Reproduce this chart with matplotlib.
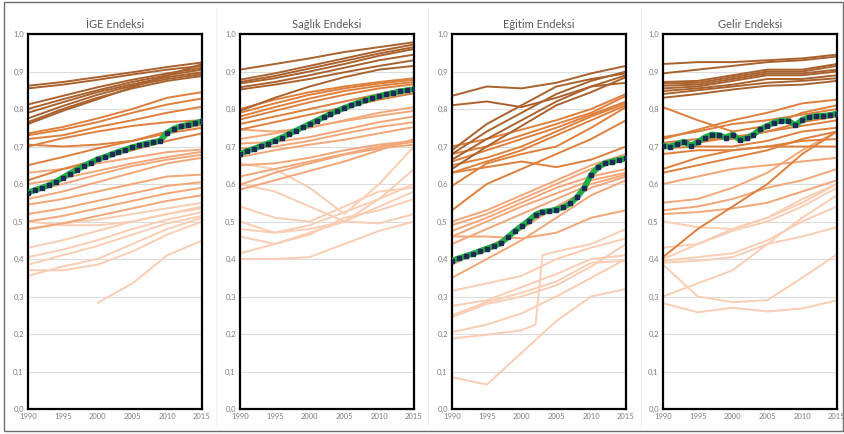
import numpy as np
import matplotlib
matplotlib.use("Agg")
import matplotlib.pyplot as plt
from matplotlib.patches import Rectangle
from matplotlib.lines import Line2D

plt.rcParams["font.family"] = ["Lato", "DejaVu Sans"]

nan = np.nan
YEARS = [1990, 1995, 2000, 2005, 2010, 2015]
YEARS_ALL = list(range(1990, 2016))
TITLES = ["İGE Endeksi", "Sağlık Endeksi", "Eğitim Endeksi", "Gelir Endeksi"]

# --- İGE ---
IGE_T1 = [
    [0.862, 0.872, 0.885, 0.898, 0.912, 0.924],
    [0.855, 0.865, 0.878, 0.892, 0.905, 0.915],
    [0.812, 0.835, 0.858, 0.878, 0.895, 0.910],
    [0.800, 0.826, 0.850, 0.872, 0.890, 0.905],
    [0.790, 0.818, 0.845, 0.866, 0.885, 0.898],
    [0.775, 0.808, 0.838, 0.862, 0.880, 0.893],
    [0.765, 0.800, 0.830, 0.855, 0.875, 0.888],
    [0.760, 0.795, 0.826, 0.858, 0.890, 0.920],
]
IGE_T2 = [
    [0.735, 0.752, 0.775, 0.800, 0.830, 0.845],
    [0.730, 0.745, 0.765, 0.790, 0.812, 0.828],
    [0.720, 0.730, 0.752, 0.770, 0.790, 0.806],
    [0.700, 0.722, 0.740, 0.755, 0.765, 0.770],
    [0.705, 0.700, 0.705, 0.715, 0.735, 0.750],
    [0.650, 0.672, 0.695, 0.715, 0.740, 0.758],
    [0.610, 0.640, 0.665, 0.690, 0.715, 0.735],
]
IGE_T3 = [
    [0.630, 0.640, 0.655, 0.670, 0.685, 0.692],
    [0.600, 0.615, 0.635, 0.655, 0.672, 0.686],
    [0.580, 0.600, 0.625, 0.648, 0.665, 0.678],
    [0.560, 0.580, 0.605, 0.630, 0.655, 0.670],
    [0.545, 0.560, 0.580, 0.600, 0.620, 0.625],
    [0.520, 0.535, 0.555, 0.575, 0.595, 0.605],
    [0.500, 0.515, 0.535, 0.555, 0.575, 0.590],
    [0.480, 0.495, 0.515, 0.535, 0.555, 0.570],
]
IGE_T4 = [
    [0.500, 0.490, 0.490, 0.500, 0.520, 0.540],
    [0.478, 0.495, 0.505, 0.520, 0.535, 0.550],
    [0.430, 0.450, 0.475, 0.500, 0.520, 0.535],
    [0.405, 0.425, 0.450, 0.480, 0.505, 0.525],
    [0.385, 0.410, 0.435, 0.465, 0.495, 0.515],
    [0.370, 0.370, 0.385, 0.420, 0.465, 0.500],
    [0.355, 0.380, 0.400, 0.440, 0.480, 0.510],
    [nan, nan, 0.283, 0.335, 0.410, 0.449],
]
TR_IGE = [0.577, 0.584, 0.590, 0.597, 0.606, 0.617, 0.628, 0.638, 0.648, 0.657,
          0.666, 0.672, 0.679, 0.686, 0.692, 0.698, 0.703, 0.708, 0.711, 0.716,
          0.737, 0.748, 0.754, 0.758, 0.762, 0.767]

# --- Sağlık ---
SAGLIK_T1 = [
    [0.905, 0.920, 0.935, 0.952, 0.965, 0.978],
    [0.878, 0.895, 0.915, 0.935, 0.955, 0.972],
    [0.872, 0.888, 0.908, 0.928, 0.948, 0.965],
    [0.868, 0.882, 0.900, 0.920, 0.942, 0.960],
    [0.858, 0.872, 0.890, 0.910, 0.930, 0.945],
    [0.852, 0.865, 0.880, 0.898, 0.915, 0.930],
    [0.795, 0.830, 0.860, 0.885, 0.905, 0.915],
]
SAGLIK_T2 = [
    [0.800, 0.825, 0.845, 0.860, 0.872, 0.882],
    [0.790, 0.815, 0.838, 0.855, 0.868, 0.878],
    [0.780, 0.805, 0.828, 0.848, 0.862, 0.872],
    [0.772, 0.795, 0.818, 0.838, 0.855, 0.866],
    [0.760, 0.780, 0.800, 0.820, 0.840, 0.855],
    [0.745, 0.765, 0.785, 0.805, 0.825, 0.842],
]
SAGLIK_T3 = [
    [0.745, 0.740, 0.750, 0.770, 0.790, 0.805],
    [0.720, 0.735, 0.752, 0.768, 0.782, 0.795],
    [0.708, 0.712, 0.725, 0.745, 0.765, 0.780],
    [0.695, 0.700, 0.715, 0.735, 0.752, 0.765],
    [0.672, 0.690, 0.705, 0.718, 0.735, 0.752],
    [0.650, 0.655, 0.670, 0.690, 0.705, 0.715],
    [0.620, 0.640, 0.660, 0.680, 0.700, 0.712],
    [0.598, 0.630, 0.655, 0.678, 0.695, 0.705],
    [0.585, 0.610, 0.635, 0.660, 0.690, 0.720],
]
SAGLIK_T4 = [
    [0.655, 0.640, 0.590, 0.520, 0.600, 0.700],
    [0.600, 0.580, 0.540, 0.500, 0.560, 0.640],
    [0.540, 0.510, 0.500, 0.540, 0.580, 0.590],
    [0.500, 0.470, 0.480, 0.500, 0.495, 0.520],
    [0.460, 0.440, 0.465, 0.510, 0.530, 0.560],
    [0.415, 0.440, 0.470, 0.500, 0.540, 0.580],
    [0.400, 0.400, 0.405, 0.440, 0.475, 0.500],
    [0.480, 0.470, 0.490, 0.525, 0.560, 0.600],
]
TR_SAGLIK = [0.680, 0.688, 0.694, 0.701, 0.708, 0.716, 0.724, 0.733, 0.742, 0.751,
             0.760, 0.769, 0.778, 0.787, 0.795, 0.803, 0.810, 0.817, 0.823, 0.829,
             0.834, 0.839, 0.843, 0.847, 0.850, 0.853]

# --- Eğitim ---
EGITIM_T1 = [
    [0.835, 0.860, 0.855, 0.870, 0.895, 0.915],
    [0.810, 0.820, 0.805, 0.830, 0.860, 0.870],
    [0.690, 0.760, 0.810, 0.860, 0.880, 0.895],
    [0.680, 0.740, 0.790, 0.840, 0.875, 0.900],
    [0.665, 0.720, 0.770, 0.820, 0.860, 0.890],
    [0.640, 0.700, 0.755, 0.810, 0.845, 0.885],
]
EGITIM_T2 = [
    [0.700, 0.720, 0.745, 0.770, 0.800, 0.840],
    [0.680, 0.700, 0.730, 0.760, 0.790, 0.835],
    [0.660, 0.690, 0.720, 0.750, 0.785, 0.820],
    [0.650, 0.670, 0.700, 0.740, 0.780, 0.815],
    [0.630, 0.660, 0.690, 0.730, 0.770, 0.810],
    [0.595, 0.655, 0.680, 0.700, 0.750, 0.805],
    [0.630, 0.645, 0.660, 0.645, 0.665, 0.700],
    [0.530, 0.600, 0.640, 0.680, 0.720, 0.770],
]
EGITIM_T3 = [
    [0.500, 0.530, 0.570, 0.610, 0.650, 0.680],
    [0.490, 0.520, 0.560, 0.600, 0.640, 0.670],
    [0.475, 0.510, 0.550, 0.590, 0.620, 0.640],
    [0.460, 0.500, 0.540, 0.575, 0.610, 0.630],
    [0.440, 0.480, 0.520, 0.560, 0.600, 0.625],
    [0.385, 0.430, 0.480, 0.540, 0.590, 0.620],
    [0.350, 0.400, 0.450, 0.510, 0.570, 0.610],
    [0.460, 0.460, 0.455, 0.470, 0.510, 0.530],
]
EGITIM_T4 = [
    [0.315, 0.335, 0.355, 0.400, 0.430, 0.455],
    [0.275, 0.290, 0.325, 0.360, 0.400, 0.410],
    [0.250, 0.285, 0.310, 0.340, 0.390, 0.395],
    [0.245, 0.280, 0.300, 0.330, 0.380, 0.440],
    [0.205, 0.225, 0.255, 0.300, 0.350, 0.400],
    [0.085, 0.065, 0.150, 0.235, 0.300, 0.320],
]
# line with a jump in 2003
EGITIM_JUMP_YEARS = [1990, 1995, 2000, 2002, 2003, 2005, 2010, 2015]
EGITIM_JUMP = [0.188, 0.198, 0.210, 0.225, 0.410, 0.420, 0.440, 0.480]
TR_EGITIM = [0.396, 0.402, 0.408, 0.414, 0.421, 0.428, 0.434, 0.442, 0.458, 0.474,
             0.488, 0.502, 0.518, 0.526, 0.528, 0.532, 0.538, 0.548, 0.565, 0.590,
             0.625, 0.645, 0.655, 0.660, 0.665, 0.668]

# --- Gelir ---
GELIR_T1 = [
    [0.920, 0.925, 0.925, 0.930, 0.935, 0.945],
    [0.895, 0.905, 0.915, 0.925, 0.930, 0.940],
    [0.872, 0.875, 0.890, 0.905, 0.905, 0.920],
    [0.868, 0.870, 0.885, 0.900, 0.900, 0.915],
    [0.862, 0.865, 0.880, 0.895, 0.895, 0.905],
    [0.855, 0.860, 0.875, 0.890, 0.890, 0.900],
    [0.848, 0.855, 0.865, 0.880, 0.880, 0.890],
    [0.840, 0.850, 0.860, 0.870, 0.875, 0.882],
    [0.830, 0.840, 0.852, 0.862, 0.865, 0.875],
]
GELIR_T2 = [
    [0.805, 0.770, 0.740, 0.755, 0.790, 0.810],
    [0.720, 0.745, 0.770, 0.790, 0.815, 0.825],
    [0.725, 0.740, 0.760, 0.770, 0.785, 0.800],
    [0.710, 0.720, 0.720, 0.740, 0.765, 0.780],
    [0.700, 0.710, 0.725, 0.740, 0.755, 0.770],
    [0.695, 0.700, 0.700, 0.715, 0.740, 0.750],
    [0.680, 0.690, 0.690, 0.700, 0.700, 0.700],
    [0.640, 0.670, 0.690, 0.700, 0.715, 0.720],
    [0.630, 0.650, 0.670, 0.690, 0.720, 0.740],
    [0.405, 0.480, 0.540, 0.600, 0.680, 0.740],
]
GELIR_T3 = [
    [0.600, 0.620, 0.640, 0.650, 0.660, 0.670],
    [0.550, 0.560, 0.590, 0.630, 0.690, 0.740],
    [0.530, 0.540, 0.560, 0.590, 0.610, 0.640],
    [0.520, 0.525, 0.535, 0.550, 0.580, 0.610],
]
GELIR_T4 = [
    [0.500, 0.485, 0.480, 0.510, 0.560, 0.600],
    [0.430, 0.440, 0.480, 0.510, 0.550, 0.600],
    [0.400, 0.440, 0.475, 0.500, 0.540, 0.590],
    [0.390, 0.395, 0.405, 0.440, 0.460, 0.485],
    [0.395, 0.405, 0.415, 0.450, 0.500, 0.540],
    [0.300, 0.335, 0.370, 0.440, 0.510, 0.570],
    [0.385, 0.300, 0.285, 0.290, 0.350, 0.412],
    [0.282, 0.258, 0.270, 0.260, 0.268, 0.290],
]
TR_GELIR = [0.702, 0.700, 0.706, 0.713, 0.702, 0.712, 0.724, 0.732, 0.730, 0.724,
            0.732, 0.718, 0.722, 0.732, 0.746, 0.755, 0.764, 0.769, 0.769, 0.757,
            0.771, 0.778, 0.781, 0.782, 0.784, 0.788]

PANELS = [
    (IGE_T1, IGE_T2, IGE_T3, IGE_T4, TR_IGE),
    (SAGLIK_T1, SAGLIK_T2, SAGLIK_T3, SAGLIK_T4, TR_SAGLIK),
    (EGITIM_T1, EGITIM_T2, EGITIM_T3, EGITIM_T4, TR_EGITIM),
    (GELIR_T1, GELIR_T2, GELIR_T3, GELIR_T4, TR_GELIR),
]

TIER_COLORS = ["#a9622e", "#de7f3c", "#f3a677", "#fbcdb3"]
W, H = 845, 434
AX_LEFT = [28, 240, 452, 663]
AX_W = 174

fig = plt.figure(figsize=(W / 100, H / 100), dpi=100)
fig.patch.set_facecolor("white")

for i, (t1, t2, t3, t4, tr) in enumerate(PANELS):
    ax = fig.add_axes([AX_LEFT[i] / W, 25 / H, AX_W / W, 375 / H])
    # draw light tiers first so darker ones sit on top
    for tier, color in zip([t4, t3, t2, t1], TIER_COLORS[::-1]):
        for row in tier:
            ax.plot(YEARS, row, color=color, lw=1.4, solid_capstyle="round")
    if i == 2:
        ax.plot(EGITIM_JUMP_YEARS, EGITIM_JUMP, color=TIER_COLORS[3], lw=1.4)
    ax.plot(YEARS_ALL, tr, color="#1fae47", lw=4.2, solid_capstyle="round", zorder=5)
    ax.plot(YEARS_ALL, tr, ls="none", marker="s", ms=2.3, mfc="#1f2b57",
            mec="#1f2b57", zorder=6)

    ax.set_xlim(1990, 2015)
    ax.set_ylim(0, 1.0)
    ax.set_xticks(range(1990, 2016, 5))
    ax.set_yticks(np.arange(0, 1.01, 0.1))
    ax.set_yticklabels([f"{v:.1f}".replace(".", ",") for v in np.arange(0, 1.01, 0.1)])
    ax.tick_params(length=0, labelsize=5.5, labelcolor="#7f7f7f", pad=3)
    ax.grid(axis="y", color="#dcdcdc", lw=0.8)
    ax.set_axisbelow(True)
    for s in ax.spines.values():
        s.set_color("black")
        s.set_linewidth(1.6)
    ax.set_title(TITLES[i], fontsize=8, color="#595959", pad=4.5)

# faint separators between panels and outer frame
for x in [216, 428, 641]:
    fig.add_artist(Line2D([x / W, x / W], [8 / H, 426 / H], color="#eeeeee", lw=0.7))
fig.add_artist(Rectangle((4 / W, 3 / H), 839 / W, 429 / H, transform=fig.transFigure,
                         fill=False, edgecolor="#6e6e6e", lw=1.0))

fig.savefig("out.png", dpi=100)
